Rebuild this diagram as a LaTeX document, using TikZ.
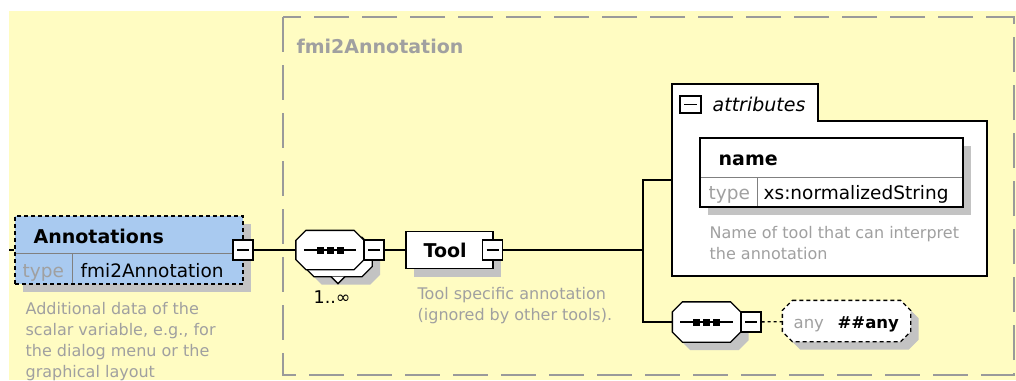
\documentclass[tikz,border=0pt]{standalone}
\usepackage{fontspec}
\setmainfont{DejaVu Sans}
\usetikzlibrary{positioning,shadows}
\definecolor{xsyellow}{HTML}{FFFCC2}
\definecolor{xsblue}{HTML}{A9CAF0}
\definecolor{xsshadow}{HTML}{C3C3C3}
\definecolor{xsgray}{HTML}{A0A0A0}
\definecolor{xsframe}{HTML}{9A9A9A}
% octagon round a named node
\newcommand\octa[2]{\path[#2] ([xshift=10pt]#1.north west) -- ([xshift=-10pt]#1.north east) -- ([yshift=-10pt]#1.north east)
  -- ([yshift=10pt]#1.south east) -- ([xshift=-10pt]#1.south east) -- ([xshift=10pt]#1.south west)
  -- ([yshift=10pt]#1.south west) -- ([yshift=-10pt]#1.north west) -- cycle;}
\newcommand\seqdots[1]{\draw ([xshift=8pt]#1.west) -- ([xshift=-8pt]#1.east);
  \foreach \d in {-10,0,10} \fill ([xshift=\d pt]#1.center) +(-3.5pt,-3.5pt) rectangle +(3.5pt,3.5pt);}

\begin{document}
\begin{tikzpicture}[x=1pt,y=-1pt,line width=1.3pt,inner sep=0pt]
  \tikzstyle{sh}=[drop shadow={shadow xshift=8pt,shadow yshift=-8pt,fill=xsshadow,opacity=1}]
  \tikzstyle{el}=[draw,fill=white]
  \tikzstyle{shd}=[fill=xsshadow,transform canvas={xshift=8pt,yshift=-8pt}]
  \tikzstyle{mb}=[el,minimum width=20pt,minimum height=20pt,path picture={\draw ([xshift=4pt]path picture bounding box.west)--([xshift=-4pt]path picture bounding box.east);}]
  \tikzstyle{oct}=[minimum width=67pt,minimum height=38pt]
  \tikzstyle{lbl}=[anchor=base west,font=\fontsize{19}{22}\selectfont\bfseries]
  \tikzstyle{val}=[anchor=base west,font=\fontsize{18.5}{22}\selectfont]
  \tikzstyle{ds}=[anchor=north west,align=left,text=xsgray,font=\fontsize{16}{21}\selectfont]
  \useasboundingbox (0,0) rectangle (1016,380);
  \clip (0,0) rectangle (1016,380);
  \fill[white] (0,0) rectangle (1016,380);
  \fill[xsyellow] (9,11) rectangle (1016,380);
  % complex type frame
  \draw[xsframe,line width=2pt,dash pattern=on 35pt off 13pt] (283,17) rectangle (1014,375);
  \node[lbl,text=xsgray] (tname) at (296,53) {fmi2Annotation};
  % Annotations element
  \coordinate (in) at (9,250);
  \node[el,sh,fill=xsblue,dash pattern=on 4pt off 3pt,minimum width=228pt,minimum height=68pt] (annot) at (129,250) {};
  \draw[gray,line width=1pt] (16,253) -- (242,253) (72,253) -- (72,283);
  \node[lbl] (annotlbl) at (33,243) {Annotations};
  \node[val,text=xsgray] (annottype) at (22,277) {type};
  \node[val] (annotval) at (80,277) {fmi2Annotation};
  \node[mb] (annotmb) at (243,250) {};
  \node[ds] (annotds) at (25,302) {Additional data of the\\scalar variable, e.g., for\\the dialog menu or the\\graphical layout};
  % sequence 1..oo
  \node[oct] (seqb) at (338,257) {};
  \octa{seqb}{shd}
  \octa{seqb}{el}
  \draw[fill=white] ([xshift=-7pt]seqb.south) -- ([yshift=-7pt]seqb.south) -- ([xshift=7pt]seqb.south);
  \node[oct] (seq) at (330,250) {};
  \octa{seq}{el}
  \seqdots{seq}
  \node[mb] (seqmb) at (374,250) {};
  \node[val,font=\fontsize{17.5}{20}\selectfont] (seqocc) at (313,303) {1..∞};
  % Tool element
  \node[el,sh,minimum width=87pt,minimum height=37pt] (tool) at (449.5,250) {};
  \node[lbl] (toollbl) at (423,257) {Tool};
  \node[mb] (toolmb) at (492.5,250) {};
  \node[ds] (toolds) at (417,287) {Tool specific annotation\\(ignored by other tools).};
  \coordinate (split) at (643,250);
  % attributes
  \draw[fill=white,line width=1.5pt] (672,84) -- (818,84) -- (818,121) -- (987,121) -- (987,276) -- (672,276) -- cycle;
  \coordinate (attin) at (672,180);
  \node[mb,minimum width=21pt,minimum height=17pt] (attmb) at (690.5,104.5) {};
  \node[anchor=base west,font=\fontsize{19}{22}\selectfont\itshape] (attlbl) at (712,111) {attributes};
  \node[el,sh,minimum width=263pt,minimum height=69pt] (name) at (831.5,172.5) {};
  \draw[gray,line width=1pt] (701,177) -- (962,177) (757,177) -- (757,206);
  \node[lbl] (namelbl) at (718,165) {name};
  \node[val,text=xsgray] (nametype) at (708,199) {type};
  \node[val] (nameval) at (763,199) {xs:normalizedString};
  \node[ds] (nameds) at (709,226) {Name of tool that can interpret\\the annotation};
  % any
  \node[oct,minimum height=39pt] (bseq) at (706.5,322) {};
  \octa{bseq}{shd}
  \octa{bseq}{el}
  \seqdots{bseq}
  \node[mb] (bseqmb) at (751,322) {};
  \node[minimum width=127pt,minimum height=40pt] (anyel) at (846.5,321) {};
  \octa{anyel}{shd}
  \octa{anyel}{el,dash pattern=on 4pt off 3pt}
  \node[val,text=xsgray,font=\fontsize{16.5}{20}\selectfont] (anytype) at (793,328) {any};
  \node[lbl,font=\fontsize{16.5}{20}\selectfont\bfseries] (anyval) at (837,328) {\#\#any};
  % connectors
  \draw (in) -- (annot);
  \draw (annotmb) -- (seq);
  \draw (seqmb) -- (tool);
  \draw (toolmb) -- (split);
  \draw (attin) -| (split) |- (bseq);
  \draw[dashed] (bseqmb) -- (anyel);
\end{tikzpicture}
\end{document}
